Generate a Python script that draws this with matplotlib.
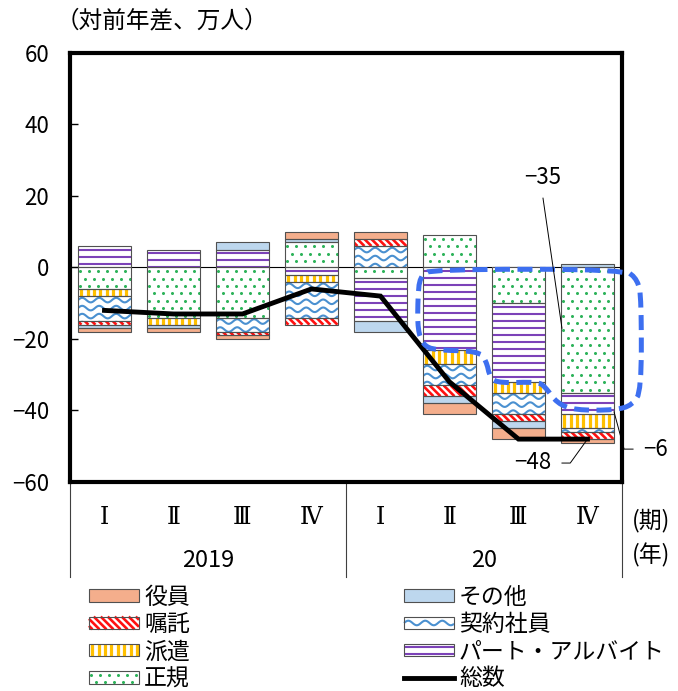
import numpy as np
import matplotlib
matplotlib.use("Agg")
import matplotlib.pyplot as plt
import matplotlib.transforms as mtransforms
from matplotlib.patches import Patch, Rectangle
from matplotlib.lines import Line2D
from matplotlib.collections import LineCollection
from matplotlib.legend_handler import HandlerBase

plt.rcParams["font.family"] = ["Noto Sans CJK JP", "DejaVu Sans"]

# 雇用形態別 雇用者数（対前年差、万人）
quarters = ["Ⅰ", "Ⅱ", "Ⅲ", "Ⅳ", "Ⅰ", "Ⅱ", "Ⅲ", "Ⅳ"]
years = ["2019", "20"]
yakuin    = [-1, -1, -1,   2,  2,  -3,  -3,  -1]   # 役員
shokutaku = [-1,  0, -1,  -2,  2,  -3,  -2,  -2]   # 嘱託
haken     = [-2, -2,  0,  -2,  0,  -4,  -3,  -4]   # 派遣
seiki     = [-6, -14, -14, 7, -3,   9, -10, -35]   # 正規
sonota    = [-1, -1,  2,   1, -3,  -2,  -2,   1]   # その他
keiyaku   = [-7,  0, -4, -10,  6,  -6,  -6,  -1]   # 契約社員
part      = [ 6,  5,  5,  -2, -12, -23, -22, -6]   # パート・アルバイト
total     = [-12, -13, -13, -6, -8, -32, -48, -48]  # 総数

EDGE = "#505050"
BW = 0.77

W, H = 678, 691
AX_L, AX_R, AX_T, AX_B = 70, 622, 53, 482
PX_X = (AX_R - AX_L) / 8.0      # pixels per category
PX_Y = (AX_B - AX_T) / 120.0    # pixels per 万人
PT = 72.0 / 100                 # points per pixel

# fill styles; pattern sizes are in pixels
S_SEIKI = dict(face="white", kind="dots", hc="#2DB35A", sx=9.0, sy=7.4, ms=2.2)
S_PART = dict(face="white", kind="hlines", hc="#7C42B8", sp=7.0, lw=1.5)
S_HAKEN = dict(face="white", kind="vlines", hc="#FFC000", sp=6.4, lw=2.3)
S_KEIYAKU = dict(face="white", kind="wave", hc="#4A90D0", sp=8.0, amp=2.3, wl=17.0, lw=1.5)
S_SHOKU = dict(face="white", kind="diag", hc="#FF1010", sp=7.0, lw=1.9)
S_SONOTA = dict(face="#BDD7EE")
S_YAKUIN = dict(face="#F4AE8C")

# stacking order from the zero line outwards
series = [
    ("正規", seiki, S_SEIKI),
    ("パート・アルバイト", part, S_PART),
    ("派遣", haken, S_HAKEN),
    ("契約社員", keiyaku, S_KEIYAKU),
    ("嘱託", shokutaku, S_SHOKU),
    ("その他", sonota, S_SONOTA),
    ("役員", yakuin, S_YAKUIN),
]


def make_pattern(st, w, h):
    """Line segments and dot centres (pixels, origin bottom-left) for a w x h box."""
    kind = st.get("kind")
    lines, dots = [], []
    if kind == "vlines":
        for x in np.arange(st["sp"] / 2, w, st["sp"]):
            lines.append(np.array([[x, 0], [x, h]]))
    elif kind == "hlines":
        for y in np.arange(h - st["sp"] / 2, 0, -st["sp"]):
            lines.append(np.array([[0, y], [w, y]]))
    elif kind == "diag":
        for c in np.arange(st["sp"] / 2, w + h, st["sp"]):
            xa, xb = max(0.0, c - h), min(w, c)
            if xb > xa:
                lines.append(np.array([[xa, c - xa], [xb, c - xb]]))
    elif kind == "wave":
        xs = np.linspace(0, w, max(int(w), 20))
        for yc in np.arange(h - st["sp"] / 2, -st["sp"] / 2, -st["sp"]):
            ys = yc + st["amp"] * np.sin(2 * np.pi * xs / st["wl"])
            lines.append(np.column_stack([xs, ys]))
    elif kind == "dots":
        j = 0
        for y in np.arange(h - st["sy"] / 2, 0, -st["sy"]):
            off = st["sx"] / 2 * (0.5 + (j % 2))
            for x in np.arange(off, w, st["sx"]):
                dots.append((x, y))
            j += 1
    return lines, np.array(dots).reshape(-1, 2)


def draw_pattern(ax, rect, st):
    x0 = rect.get_x()
    y0 = min(rect.get_y(), rect.get_y() + rect.get_height())
    lines, dots = make_pattern(st, rect.get_width() * PX_X, abs(rect.get_height()) * PX_Y)
    segs = [np.column_stack([x0 + L[:, 0] / PX_X, y0 + L[:, 1] / PX_Y]) for L in lines]
    if segs:
        lc = LineCollection(segs, colors=st["hc"], linewidths=st["lw"], capstyle="butt",
                            zorder=2.5)
        ax.add_collection(lc)
        lc.set_clip_path(rect)
    if len(dots):
        pts, = ax.plot(x0 + dots[:, 0] / PX_X, y0 + dots[:, 1] / PX_Y, "o", ms=st["ms"],
                       color=st["hc"], mec="none", zorder=2.5)
        pts.set_clip_path(rect)


fig = plt.figure(figsize=(W / 100, H / 100), dpi=100)
ax = fig.add_axes([AX_L / W, 1 - AX_B / H, (AX_R - AX_L) / W, (AX_B - AX_T) / H])
ax.set_xlim(-0.5, 7.5)
ax.set_ylim(-60, 60)

x = np.arange(len(quarters))
pos_bottom = np.zeros(len(x))
neg_bottom = np.zeros(len(x))
for name, vals, st in series:
    v = np.array(vals, dtype=float)
    for i in x:
        if v[i] == 0:
            continue
        b = pos_bottom[i] if v[i] > 0 else neg_bottom[i]
        bar = ax.bar(i, v[i], BW, bottom=b, color=st["face"], lw=0, zorder=2)
        if "kind" in st:
            draw_pattern(ax, bar.patches[0], st)
        ax.bar(i, v[i], BW, bottom=b, fill=False, edgecolor=EDGE, lw=0.8, zorder=3)
    pos_bottom += np.clip(v, 0, None)
    neg_bottom += np.clip(v, None, 0)

ax.axhline(0, color="black", lw=0.8, zorder=1)
ax.plot(x, total, color="black", lw=3.5, zorder=4, solid_joinstyle="miter")

# dashed outline around the part-time decline
outline = np.array([
    [4.54, -9.1], [4.57, -2.4], [4.75, -0.5], [7.54, -0.5], [7.73, -3.5],
    [7.78, -9.1], [7.78, -34.3], [7.65, -38.5], [7.40, -39.9], [6.82, -39.9],
    [6.56, -38.0], [6.38, -33.2], [6.27, -32.0], [5.73, -32.3], [5.59, -31.0],
    [5.53, -25.9], [5.41, -23.4], [4.79, -23.1], [4.62, -21.7], [4.54, -17.5],
])


def chaikin(pts, n=2):
    for _ in range(n):
        nxt = np.roll(pts, -1, axis=0)
        q = 0.75 * pts + 0.25 * nxt
        r = 0.25 * pts + 0.75 * nxt
        pts = np.empty((2 * len(pts), 2))
        pts[0::2], pts[1::2] = q, r
    return pts


sm = chaikin(outline)
sm = np.vstack([sm, sm[:1]])
ax.plot(sm[:, 0], sm[:, 1], color="#3D6FF0", lw=3.6, ls=(0, (3.0, 1.5)),
        dash_capstyle="butt", zorder=5, clip_on=False)


def fmt(v):
    return f"{v}".replace("-", "−")


# callouts for the 2020 Q4 figures
ax.text(6.35, 25.1, fmt(seiki[7]), ha="center", va="center", fontsize=16)
ax.plot([6.355, 6.63], [19.4, -17.0], color="black", lw=0.7, zorder=6)

ax.text(6.2, -54.5, fmt(total[7]), ha="center", va="center", fontsize=16)
ax.plot([6.63, 6.75, 7.0], [-54.7, -54.7, total[7]], color="black", lw=0.7, zorder=6)

ax.text(7.98, -50.8, fmt(part[7]), ha="center", va="center", fontsize=16, clip_on=False)
ax.plot([7 + BW / 2, 7.53, 7.66], [-40.4, -50.8, -50.8], color="black", lw=0.7,
        zorder=6, clip_on=False)

# axes styling
for sp in ax.spines.values():
    sp.set_linewidth(3.0)
    sp.set_color("black")
ax.set_yticks(np.arange(-60, 61, 20))
ax.set_yticklabels([fmt(t) for t in range(-60, 61, 20)])
ax.tick_params(axis="y", direction="in", length=6, width=1, pad=15, labelsize=16)
ax.set_xticks([])

# two-level category axis below the plot
tr = mtransforms.blended_transform_factory(ax.transData, ax.transAxes)
for i, q in enumerate(quarters):
    ax.text(i, -0.082, q, transform=tr, ha="center", va="center", fontsize=17,
            family=["DejaVu Serif"])
for j, yr in enumerate(years):
    ax.text(1.5 + 4 * j, -0.184, yr, transform=tr, ha="center", va="center", fontsize=17)
for xs in (-0.5, 3.5, 7.5):
    ax.plot([xs, xs], [0, -0.222], transform=tr, color="#404040", lw=0.8, clip_on=False)

fig.text(632 / W, 1 - 521 / H, "(期)", ha="left", va="center", fontsize=16.5)
fig.text(632 / W, 1 - 555 / H, "(年)", ha="left", va="center", fontsize=16.5)
fig.text(56 / W, 1 - 21 / H, "（対前年差、万人）", ha="left", va="center", fontsize=17)


# legend keys carry the fill style of their series
class PatternKey:
    def __init__(self, st):
        self.st = st


class PatternHandler(HandlerBase):
    def create_artists(self, legend, orig_handle, xdescent, ydescent, width, height,
                       fontsize, trans):
        st = orig_handle.st
        x0, y0 = -xdescent, -ydescent
        arts = [Rectangle((x0, y0), width, height, facecolor=st["face"], lw=0,
                          transform=trans)]
        if "kind" in st:
            sw = st
            if st["kind"] == "wave":
                sw = dict(st, sp=height / PT)
            lines, dots = make_pattern(sw, width / PT, height / PT)
            if lines:
                segs = [np.column_stack([x0 + L[:, 0] * PT, y0 + L[:, 1] * PT]) for L in lines]
                arts.append(LineCollection(segs, colors=st["hc"], linewidths=st["lw"],
                                           capstyle="butt", transform=trans))
            if len(dots):
                arts.append(Line2D(x0 + dots[:, 0] * PT, y0 + dots[:, 1] * PT, ls="none",
                                   marker="o", ms=st["ms"], color=st["hc"], mec="none",
                                   transform=trans))
        arts.append(Rectangle((x0, y0), width, height, fill=False, edgecolor=EDGE, lw=0.8,
                              transform=trans))
        return arts


styles = {name: st for name, _, st in series}
order = ["役員", "嘱託", "派遣", "正規", "その他", "契約社員", "パート・アルバイト"]
handles = [PatternKey(styles[n]) for n in order] + [Line2D([], [], color="black", lw=3.5)]
labels = order + ["総数"]

fig.legend(handles, labels, ncol=2, loc="upper left", bbox_to_anchor=(89 / W, 1 - 586 / H),
           frameon=False, fontsize=16.5, handlelength=2.18, handleheight=0.48,
           handletextpad=0.22, labelspacing=0.18, columnspacing=9.35,
           borderaxespad=0, borderpad=0, handler_map={PatternKey: PatternHandler()})

fig.savefig("out.png", dpi=100)
